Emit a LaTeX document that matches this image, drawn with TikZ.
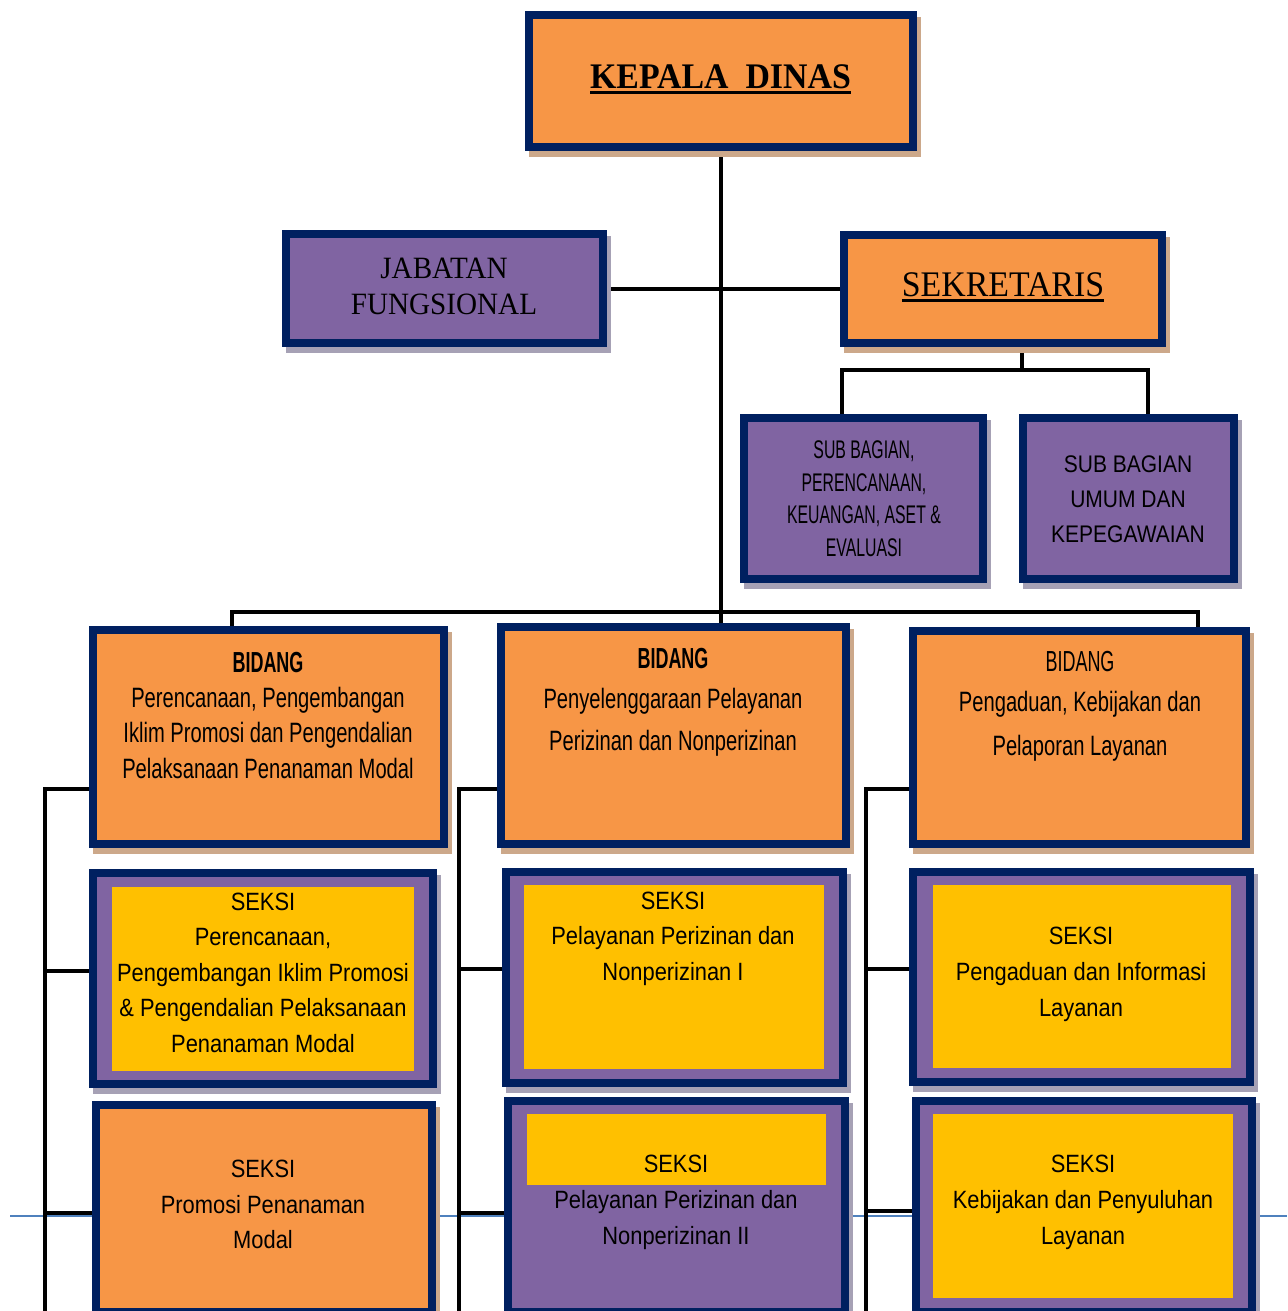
\documentclass[tikz,border=0pt]{standalone}
\usepackage{fontspec}
\setmainfont{Liberation Sans}
\newfontfamily\fSerif[FakeStretch=0.94]{Liberation Serif}
\newfontfamily\fArial[FakeStretch=0.875]{Liberation Sans}
\newfontfamily\fAgency[FakeStretch=0.72]{Liberation Sans}
\newfontfamily\fAgencyCaps[FakeStretch=0.62]{Liberation Sans}
\definecolor{navyb}{RGB}{0,32,96}
\definecolor{orangef}{RGB}{247,150,70}
\definecolor{purplef}{RGB}{128,100,162}
\definecolor{yellowf}{RGB}{255,192,0}
\definecolor{shtan}{RGB}{204,168,138}
\definecolor{shgray}{RGB}{166,161,181}
\definecolor{footblue}{RGB}{79,129,189}
\pgfdeclarelayer{back}
\pgfdeclarelayer{bg}
\pgfsetlayers{back,bg,main}
\newcommand\myul[2]{\setbox0\hbox{#2}\rlap{\rule[-5.5pt]{\wd0}{#1}}\box0}
\tikzset{
  box/.style={draw=navyb, line width=8pt, inner sep=0pt, rectangle},
  orangebox/.style={box, fill=orangef},
  purplebox/.style={box, fill=purplef},
  innerbox/.style={fill=yellowf, inner sep=0pt, rectangle},
  txt/.style={inner sep=0pt, text=black},
  conn/.style={draw=black, line width=4pt},
  footer/.style={draw=footblue, line width=1.6pt}
}
% name, style, shadow colour, x1, y1, x2, y2 (outer edges)
\newcommand\mybox[7]{%
  \fill[#3] (#4+4,#5+6) rectangle (#6+4,#7+6);
  \node[#2, minimum width=#6-#4-8, minimum height=#7-#5-8] (#1) at ({(#4+#6)/2},{(#5+#7)/2}) {};
}
\newcommand\myinner[5]{%
  \node[innerbox, minimum width=#4-#2, minimum height=#5-#3] (#1) at ({(#2+#4)/2},{(#3+#5)/2}) {};
}
\begin{document}
\begin{tikzpicture}[x=1pt,y=-1pt]
\useasboundingbox (0,0) rectangle (1287,1311);
\clip (0,0) rectangle (1287,1311);
\begin{pgfonlayer}{back}
\fill[white] (0,0) rectangle (1287,1311);
\end{pgfonlayer}

% boxes
\mybox{kd}{orangebox}{shtan}{525}{11}{917}{151}
\mybox{jf}{purplebox}{shgray}{282}{230}{607}{347}
\mybox{sk}{orangebox}{shtan}{840}{231}{1166}{347}
\mybox{sub1}{purplebox}{shgray}{740}{414}{987}{583}
\mybox{sub2}{purplebox}{shgray}{1019}{414}{1238}{583}
\mybox{bid1}{orangebox}{shtan}{89}{626}{448}{848}
\mybox{bid2}{orangebox}{shtan}{497}{623}{850}{848}
\mybox{bid3}{orangebox}{shtan}{909}{627}{1250}{848}
\mybox{s11}{purplebox}{shgray}{89}{869}{437}{1088}
\mybox{s12}{purplebox}{shgray}{502}{868}{847}{1087}
\mybox{s13}{purplebox}{shgray}{909}{868}{1254}{1086}
\mybox{s21}{orangebox}{shtan}{92}{1101}{436}{1316}
\mybox{s22}{purplebox}{shgray}{504}{1097}{849}{1316}
\mybox{s23}{purplebox}{shgray}{912}{1097}{1256}{1316}
\myinner{s11in}{112}{887}{414}{1071}
\myinner{s12in}{524}{885}{824}{1069}
\myinner{s13in}{933}{885}{1231}{1068}
\myinner{s22in}{527}{1114}{826}{1185}
\myinner{s23in}{933}{1114}{1233}{1298}

% texts
\node[txt, anchor=base, font=\fSerif\bfseries\fontsize{36}{40}\selectfont] (kdt) at (720.5,88.3) {\myul{2.6pt}{KEPALA\ \ DINAS}};
\node[txt, anchor=north, align=center, font=\fSerif\fontsize{31}{36.7}\selectfont] (jft) at (444,257.5) {JABATAN\\FUNGSIONAL};
\node[txt, anchor=base, font=\fSerif\fontsize{36}{40}\selectfont] (skt) at (1003,296) {\myul{2.2pt}{SEKRETARIS}};
\node[txt, anchor=north, align=center, font=\fAgencyCaps\fontsize{25.5}{32.5}\selectfont] (sub1t) at (864,440.6) {SUB BAGIAN,\\PERENCANAAN,\\KEUANGAN, ASET \&\\EVALUASI};
\node[txt, anchor=north, align=center, font=\fArial\fontsize{24}{35.2}\selectfont] (sub2t) at (1128,455.2) {SUB BAGIAN\\UMUM DAN\\KEPEGAWAIAN};

\node[txt, anchor=base, font=\fAgencyCaps\bfseries\fontsize{29}{34}\selectfont] (bid1h) at (268,672.5) {BIDANG};
\node[txt, anchor=north, align=center, font=\fAgency\fontsize{28}{35.4}\selectfont] (bid1t) at (268,687.1) {Perencanaan, Pengembangan\\Iklim Promosi dan Pengendalian\\Pelaksanaan Penanaman Modal};
\node[txt, anchor=base, font=\fAgencyCaps\bfseries\fontsize{29}{34}\selectfont] (bid2h) at (673,668.3) {BIDANG};
\node[txt, anchor=north, align=center, font=\fAgency\fontsize{28}{41.7}\selectfont] (bid2t) at (673,688.1) {Penyelenggaraan Pelayanan\\Perizinan dan Nonperizinan};
\node[txt, anchor=base, font=\fAgencyCaps\fontsize{29}{34}\selectfont] (bid3h) at (1080,671.7) {BIDANG};
\node[txt, anchor=north, align=center, font=\fAgency\fontsize{28}{43.3}\selectfont] (bid3t) at (1080,691.5) {Pengaduan, Kebijakan dan\\Pelaporan Layanan};

\node[txt, anchor=north, align=center, font=\fArial\fontsize{25}{35.4}\selectfont] (s11t) at (263,892.8) {SEKSI\\Perencanaan,\\Pengembangan Iklim Promosi\\\& Pengendalian Pelaksanaan\\Penanaman Modal};
\node[txt, anchor=north, align=center, font=\fArial\fontsize{25}{35.3}\selectfont] (s12t) at (673,891.8) {SEKSI\\Pelayanan Perizinan dan\\Nonperizinan I};
\node[txt, anchor=north, align=center, font=\fArial\fontsize{25}{35.8}\selectfont] (s13t) at (1081,926.8) {SEKSI\\Pengaduan dan Informasi\\Layanan};
\node[txt, anchor=north, align=center, font=\fArial\fontsize{25}{35.5}\selectfont] (s21t) at (263,1160) {SEKSI\\Promosi Penanaman\\Modal};
\node[txt, anchor=north, align=center, font=\fArial\fontsize{25}{36}\selectfont] (s22t) at (676,1155) {SEKSI\\Pelayanan Perizinan dan\\Nonperizinan II};
\node[txt, anchor=north, align=center, font=\fArial\fontsize{25}{36}\selectfont] (s23t) at (1083,1155) {SEKSI\\Kebijakan dan Penyuluhan\\Layanan};

% connector coordinates
\coordinate (foot1) at (10,1216);
\coordinate (foot2) at (1287,1216);
\coordinate (skd) at (1022,370);
\coordinate (sbL) at (842,370);
\coordinate (sbR) at (1148,370);
\coordinate (busL) at (232,612);
\coordinate (busR) at (1198,612);
\coordinate (c1a) at (45,789);
\coordinate (c1b) at (45,971);
\coordinate (c1c) at (45,1213);
\coordinate (c1z) at (45,1330);
\coordinate (c2a) at (459,789);
\coordinate (c2b) at (459,969);
\coordinate (c2c) at (459,1213);
\coordinate (c2z) at (459,1330);
\coordinate (c3a) at (866,789);
\coordinate (c3b) at (866,969);
\coordinate (c3c) at (866,1211);
\coordinate (c3z) at (866,1330);

\begin{pgfonlayer}{bg}
\draw[footer] (foot1) -- (foot2);
\draw[conn] (kd.south) -- (kd.south |- bid2.north);
\draw[conn] (jf.east) -- (jf.east -| sk.west);
\draw[conn] (skd |- sk.south) -- (skd);
\draw[conn] (sbL |- sub1.north) -- (sbL) -- (sbR) -- (sbR |- sub2.north);
\draw[conn] (busL |- bid1.north) -- (busL) -- (busR) -- (busR |- bid3.north);
\draw[conn] (c1a -| bid1.west) -- (c1a) -- (c1z);
\draw[conn] (c1b) -- (c1b -| s11.west);
\draw[conn] (c1c) -- (c1c -| s21.west);
\draw[conn] (c2a -| bid2.west) -- (c2a) -- (c2z);
\draw[conn] (c2b) -- (c2b -| s12.west);
\draw[conn] (c2c) -- (c2c -| s22.west);
\draw[conn] (c3a -| bid3.west) -- (c3a) -- (c3z);
\draw[conn] (c3b) -- (c3b -| s13.west);
\draw[conn] (c3c) -- (c3c -| s23.west);
\end{pgfonlayer}
\end{tikzpicture}
\end{document}
